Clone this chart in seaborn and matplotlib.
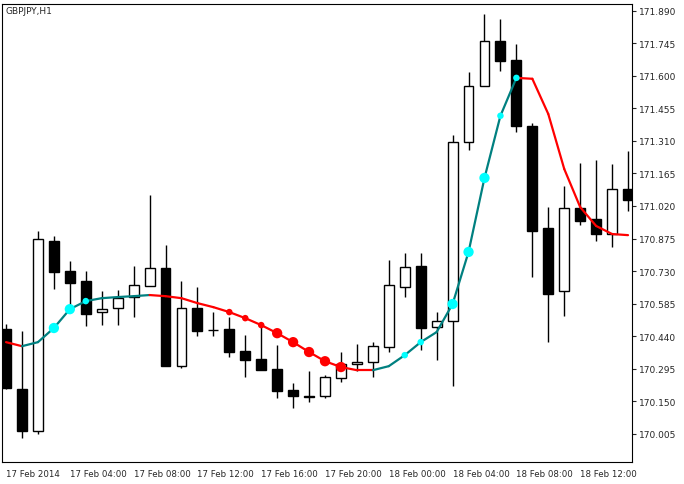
import matplotlib
matplotlib.use("Agg")
import matplotlib.pyplot as plt
import seaborn as sns
import numpy as np
import pandas as pd

sns.set_style("white")
plt.rcParams['font.family'] = ['DejaVu Sans']

opens  = [170.471,170.203,170.016,170.864,170.730,170.685,170.547,170.565,170.614,170.663,
          170.743,170.306,170.565,170.467,170.471,170.373,170.337,170.293,170.199,170.172,
          170.172,170.252,170.315,170.324,170.391,170.659,170.752,170.480,170.507,171.306,
          171.555,171.756,171.671,171.377,170.922,170.641,171.011,170.962,170.895,171.096]
highs  = [170.493,170.462,170.908,170.886,170.775,170.730,170.641,170.645,170.752,171.069,
          170.846,170.685,170.659,170.547,170.525,170.444,170.485,170.400,170.230,170.284,
          170.266,170.369,170.404,170.413,170.779,170.810,170.810,170.547,171.337,171.618,
          171.877,171.854,171.743,171.390,171.015,171.109,171.212,171.225,171.207,171.265]
lows   = [170.203,169.985,170.003,170.650,170.574,170.485,170.489,170.489,170.525,170.663,
          170.306,170.297,170.440,170.440,170.346,170.257,170.288,170.163,170.119,170.145,
          170.163,170.235,170.284,170.257,170.369,170.614,170.377,170.333,170.217,171.270,
          171.555,171.622,171.350,170.703,170.413,170.529,170.935,170.864,170.837,170.998]
closes = [170.208,170.016,170.873,170.725,170.676,170.538,170.560,170.609,170.667,170.743,
          170.306,170.565,170.462,170.465,170.369,170.333,170.288,170.194,170.172,170.170,
          170.257,170.315,170.324,170.395,170.667,170.748,170.476,170.507,171.306,171.555,
          171.756,171.667,171.377,170.908,170.627,171.011,170.953,170.895,171.096,171.047]
line_vals = [170.413,170.395,170.413,170.476,170.560,170.596,170.609,170.614,170.618,170.623,
             170.618,170.609,170.587,170.569,170.547,170.520,170.489,170.453,170.413,170.369,
             170.328,170.302,170.288,170.288,170.306,170.355,170.413,170.458,170.583,170.815,
             171.145,171.422,171.591,171.587,171.430,171.185,171.015,170.931,170.895,170.890]
# 0 = falling (red), 1 = rising (teal)
trend = [0,0,1,1,1,1,1,1,1,1, 0,0,0,0,0,0,0,0,0,0, 0,0,0,0,1,1,1,1,1,1, 1,1,1,0,0,0,0,0,0,0]
dot_bars  = [3,4,5,14,15,16,17,18,19,20,21,25,26,28,29,30,31,32]
dot_sizes = [2,2,1,1,1,1,2,2,2,2,2,1,1,2,2,2,1,1]
tick_prices = [170.005,170.150,170.295,170.440,170.585,170.730,170.875,171.020,171.165,171.310,171.455,171.600,171.745,171.890]
xtick_bars = [0,4,8,12,16,20,24,28,32,36]
xtick_labels = ["17 Feb 2014","17 Feb 04:00","17 Feb 08:00","17 Feb 12:00","17 Feb 16:00",
                "17 Feb 20:00","18 Feb 00:00","18 Feb 04:00","18 Feb 08:00","18 Feb 12:00"]

fig = plt.figure(figsize=(6.84, 4.85), dpi=100)
ax = fig.add_axes([0.003, 0.045, 0.921, 0.945])

x = np.arange(len(opens))
for i in x:
    o, h, l, c = opens[i], highs[i], lows[i], closes[i]
    ax.vlines(i, l, h, color="black", lw=1, zorder=2)
    bottom = min(o, c); height = max(abs(c - o), 0.003)
    fc = "white" if c > o else "black"
    ax.bar(i, height, 0.62, bottom=bottom, facecolor=fc, edgecolor="black", lw=1, zorder=3)

df = pd.DataFrame({"x": x, "v": line_vals, "t": trend})
for i in range(1, len(x)):
    seg = df.iloc[i-1:i+1]
    col = "#008080" if trend[i] == 1 else "#ff0000"
    sns.lineplot(data=seg, x="x", y="v", color=col, lw=1.6, ax=ax, zorder=4)

dd = pd.DataFrame({"x": dot_bars,
                   "v": [line_vals[b] for b in dot_bars],
                   "s": [55 if s == 2 else 22 for s in dot_sizes],
                   "c": ["#00ffff" if trend[b] == 1 else "#ff0000" for b in dot_bars]})
ax.scatter(dd["x"], dd["v"], s=dd["s"], c=dd["c"], zorder=5, edgecolors="none")

ax.set_xlim(-0.25, 39.25)
ax.set_ylim(169.878, 171.921)
ax.yaxis.tick_right()
ax.set_yticks(tick_prices)
ax.set_yticklabels([f"{p:.3f}" for p in tick_prices], fontsize=6.5)
ax.set_xticks(xtick_bars)
ax.set_xticklabels(xtick_labels, fontsize=6.2, ha="left")
ax.tick_params(axis="both", length=3, width=0.8, direction="out", pad=2)
ax.set_xlabel(""); ax.set_ylabel("")
for s in ax.spines.values():
    s.set_color("black"); s.set_linewidth(0.8)
ax.text(0.005, 0.995, "GBPJPY,H1", transform=ax.transAxes, fontsize=6.5, va="top", ha="left")
fig.savefig("out.png", dpi=100)
